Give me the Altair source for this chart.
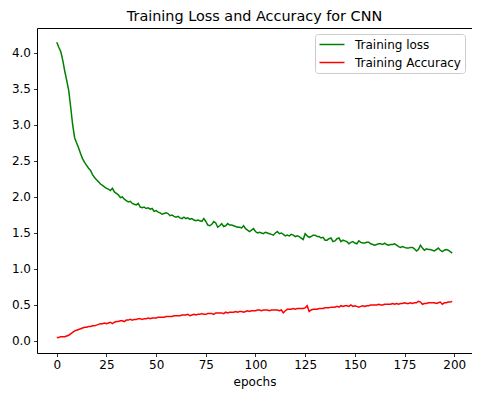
import altair as alt
import pandas as pd

title_text = "Training Loss and Accuracy for CNN"
series_names = ["Training loss", "Training Accuracy"]
series_colors = ["green", "red"]
x_ticks = [0, 25, 50, 75, 100, 125, 150, 175, 200]
y_ticks = [0.0, 0.5, 1.0, 1.5, 2.0, 2.5, 3.0, 3.5, 4.0]

training_loss = [
    4.15, 4.08, 4.02, 3.90, 3.75, 3.62, 3.48, 3.25, 3.00, 2.82,
    2.75, 2.68, 2.60, 2.53, 2.48, 2.44, 2.40, 2.37, 2.31, 2.27,
    2.24, 2.21, 2.18, 2.16, 2.14, 2.12, 2.11, 2.09, 2.12, 2.07,
    2.05, 2.03, 1.99, 2.00, 1.97, 1.95, 1.93, 1.94, 1.91, 1.90,
    1.89, 1.91, 1.86, 1.85, 1.86, 1.84, 1.85, 1.83, 1.84, 1.80,
    1.81, 1.79, 1.78, 1.76, 1.77, 1.78, 1.77, 1.74, 1.75, 1.73,
    1.72, 1.73, 1.71, 1.70, 1.72, 1.70, 1.71, 1.69, 1.70, 1.68,
    1.67, 1.68, 1.67, 1.66, 1.70, 1.66, 1.61, 1.60, 1.62, 1.66,
    1.64, 1.58, 1.60, 1.63, 1.59, 1.60, 1.63, 1.61, 1.61, 1.60,
    1.59, 1.58, 1.58, 1.57, 1.60, 1.56, 1.54, 1.52, 1.54, 1.56,
    1.52, 1.50, 1.51, 1.50, 1.49, 1.51, 1.50, 1.49, 1.48, 1.47,
    1.50, 1.52, 1.49, 1.50, 1.48, 1.46, 1.47, 1.46, 1.48, 1.47,
    1.45, 1.46, 1.45, 1.43, 1.41, 1.49, 1.46, 1.44, 1.45, 1.47,
    1.47, 1.45, 1.45, 1.43, 1.44, 1.40, 1.40, 1.42, 1.43, 1.38,
    1.39, 1.42, 1.43, 1.38, 1.40, 1.39, 1.38, 1.35, 1.37, 1.38,
    1.36, 1.35, 1.39, 1.37, 1.36, 1.36, 1.37, 1.37, 1.35, 1.34,
    1.33, 1.34, 1.35, 1.35, 1.34, 1.36, 1.34, 1.33, 1.34, 1.34,
    1.35, 1.33, 1.31, 1.30, 1.31, 1.30, 1.29, 1.29, 1.30, 1.30,
    1.28, 1.25, 1.27, 1.33, 1.29, 1.26, 1.28, 1.27, 1.27, 1.26,
    1.25, 1.27, 1.29, 1.26, 1.24, 1.26, 1.27, 1.26, 1.24, 1.22,
]

training_accuracy = [
    0.05, 0.05, 0.06, 0.06, 0.06, 0.07, 0.08, 0.10, 0.12, 0.14,
    0.15, 0.16, 0.17, 0.18, 0.19, 0.19, 0.20, 0.20, 0.21, 0.21,
    0.22, 0.23, 0.24, 0.24, 0.25, 0.24, 0.25, 0.26, 0.24, 0.26,
    0.27, 0.27, 0.28, 0.28, 0.27, 0.29, 0.29, 0.30, 0.29, 0.30,
    0.30, 0.31, 0.31, 0.30, 0.31, 0.31, 0.32, 0.31, 0.32, 0.32,
    0.32, 0.33, 0.33, 0.33, 0.33, 0.34, 0.34, 0.34, 0.34, 0.35,
    0.35, 0.35, 0.35, 0.36, 0.36, 0.36, 0.37, 0.35, 0.36, 0.37,
    0.36, 0.37, 0.37, 0.38, 0.37, 0.37, 0.38, 0.38, 0.38, 0.37,
    0.39, 0.39, 0.39, 0.39, 0.38, 0.40, 0.39, 0.40, 0.40, 0.40,
    0.41, 0.40, 0.41, 0.41, 0.40, 0.41, 0.42, 0.41, 0.42, 0.42,
    0.42, 0.43, 0.43, 0.42, 0.43, 0.43, 0.43, 0.42, 0.43, 0.43,
    0.43, 0.43, 0.42, 0.43, 0.39, 0.42, 0.44, 0.44, 0.44, 0.45,
    0.44, 0.45, 0.45, 0.45, 0.45, 0.46, 0.49, 0.41, 0.43, 0.44,
    0.44, 0.44, 0.45, 0.45, 0.45, 0.46, 0.46, 0.46, 0.47, 0.47,
    0.47, 0.48, 0.47, 0.49, 0.48, 0.49, 0.49, 0.48, 0.50, 0.48,
    0.49, 0.48, 0.47, 0.48, 0.49, 0.48, 0.49, 0.49, 0.50, 0.50,
    0.50, 0.50, 0.51, 0.50, 0.50, 0.51, 0.51, 0.51, 0.51, 0.52,
    0.51, 0.52, 0.51, 0.52, 0.52, 0.53, 0.52, 0.52, 0.53, 0.52,
    0.53, 0.53, 0.55, 0.54, 0.51, 0.52, 0.52, 0.53, 0.53, 0.53,
    0.53, 0.52, 0.53, 0.54, 0.51, 0.53, 0.53, 0.54, 0.54, 0.55,
]

epochs = list(range(len(training_loss)))

df = pd.concat([
    pd.DataFrame({"epoch": epochs, "value": training_loss, "series": series_names[0]}),
    pd.DataFrame({"epoch": list(range(len(training_accuracy))), "value": training_accuracy, "series": series_names[1]}),
])

FONT = "DejaVu Sans"

chart = alt.Chart(df).mark_line(strokeWidth=1.5).encode(
    x=alt.X("epoch:Q",
            scale=alt.Scale(domain=[-9.95, 208.95], nice=False, zero=False),
            axis=alt.Axis(values=x_ticks, title="epochs", format="d", grid=False)),
    y=alt.Y("value:Q",
            scale=alt.Scale(domain=[-0.167, 4.347], nice=False, zero=False),
            axis=alt.Axis(values=y_ticks, title=None, format=".1f", grid=False)),
    color=alt.Color("series:N",
                    scale=alt.Scale(domain=series_names, range=series_colors),
                    legend=alt.Legend(title=None, orient="none", legendX=278, legendY=6,
                                      symbolType="M-1.09,0H3.45", symbolSize=121,
                                      symbolStrokeWidth=1.5, symbolFillColor="transparent",
                                      labelFont=FONT, labelFontSize=12, labelColor="black",
                                      labelOffset=23, rowPadding=5, padding=4,
                                      strokeColor="#cccccc", fillColor="white", cornerRadius=3)),
    order=alt.Order("epoch:Q"),
).properties(
    width=435,
    height=325,
    title=alt.TitleParams(title_text, font=FONT, fontSize=14.4, fontWeight="normal",
                          color="black", offset=4),
    autosize=alt.AutoSizeParams(type="none"),
    padding={"left": 29, "top": 20, "right": 0, "bottom": 46},
).configure_view(
    stroke="black", strokeWidth=1
).configure_axis(
    domain=False, tickColor="black", tickSize=3.5, tickWidth=0.8,
    labelFont=FONT, labelFontSize=12, labelColor="black", labelPadding=3,
    titleFont=FONT, titleFontSize=12, titleFontWeight="normal", titleColor="black",
    titlePadding=6,
)

chart.save("out.html", embed_options={"renderer": "svg", "actions": False})
